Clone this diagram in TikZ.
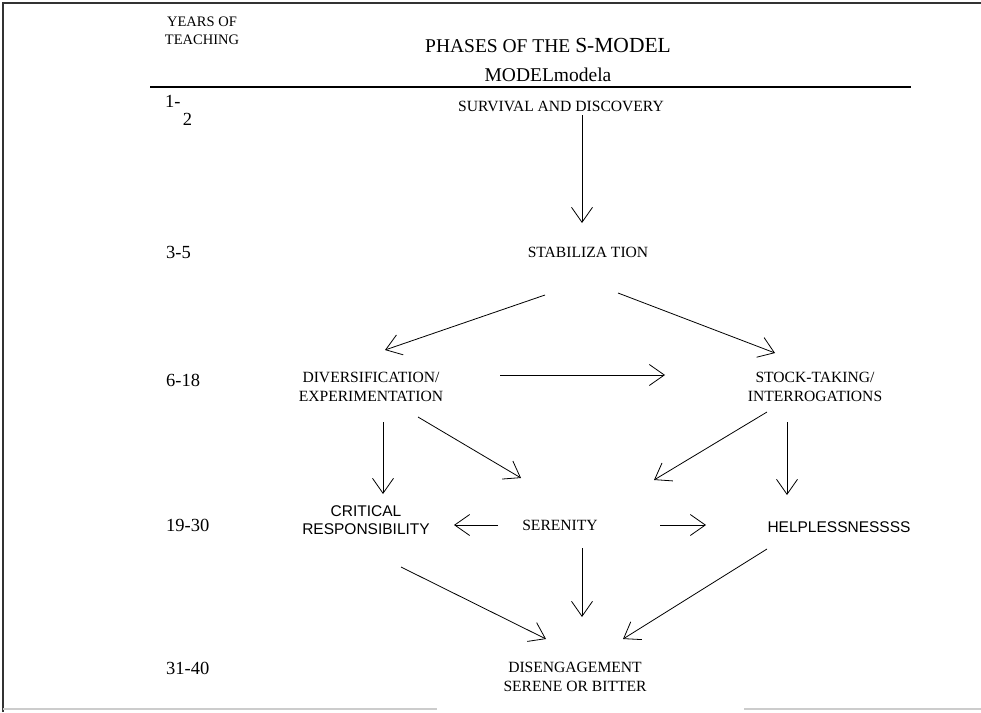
\documentclass[tikz,border=0pt]{standalone}
\usepackage{fontspec}
\setmainfont{Liberation Serif}
\newfontfamily\arialfont{Liberation Sans}
\usetikzlibrary{arrows.meta}

\tikzset{
  phase/.style={align=center, inner sep=1pt, font=\fontsize{15.6}{19}\selectfont},
  phase sans/.style={align=center, inner sep=1pt, font=\arialfont\fontsize{15.5}{18}\selectfont},
  years/.style={anchor=west, inner sep=0pt, font=\fontsize{18.5}{18}\selectfont},
  arr/.style={-{Straight Barb[length=15pt,width=21pt]}, line width=0.8pt},
}

\begin{document}
\begin{tikzpicture}[x=1pt, y=-1pt]
\useasboundingbox (0,0) rectangle (981,712);

% frame of the scan
\draw[line width=2.5pt, black!80] (3,712) -- (3,3) -- (981,3);
\draw[line width=2pt, black!20] (3,709) -- (437,709) (744,709) -- (981,709);

% header
\node[align=center, inner sep=0pt, font=\fontsize{14.5}{18}\selectfont] (head-years) at (202,31) {YEARS OF\\TEACHING};
\node[align=center, inner sep=0pt, font=\fontsize{19.5}{29}\selectfont] (head-phases) at (548,60)
  {PHASES OF THE {\fontsize{21.5}{29}\selectfont S-MODEL}\\MODELmodela};
\draw[line width=1.8pt] (150,87) -- (911,87);

% years of teaching
\node[years, anchor=north west, align=left, font=\fontsize{18.5}{18}\selectfont] (year-1) at (165,95) {1-\\\hspace*{0.95em}2};
\foreach \lbl/\y [count=\i from 2] in {3-5/252, 6-18/380, 19-30/525, 31-40/668}
  \node[years] (year-\i) at (166,\y) {\lbl};

% phases
\node[phase] (survival) at (561,106) {SURVIVAL AND DISCOVERY};
\node[phase] (stab) at (588,252) {STABILIZA TION};
\node[phase] (divers) at (371,387) {DIVERSIFICATION/\\EXPERIMENTATION};
\node[phase] (stock) at (815,387) {STOCK-TAKING/\\INTERROGATIONS};
\node[phase sans] (crit) at (366,520) {CRITICAL\\RESPONSIBILITY};
\node[phase] (seren) at (560,525) {SERENITY};
\node[phase sans] (help) at (839,527) {HELPLESSNESSSS};
\node[phase] (diseng) at (575,677) {DISENGAGEMENT\\SERENE OR BITTER};

% edges between phases
\draw[arr] ([shift={(21,9)}]survival.center) -- ([shift={(-6,-29)}]stab.center);
\draw[arr] ([shift={(-43,43)}]stab.center) -- ([shift={(14,-37)}]divers.center);
\draw[arr] ([shift={(30,41)}]stab.center) -- ([shift={(-40,-34)}]stock.center);
\draw[arr] ([shift={(129,-12)}]divers.center) -- ([shift={(-150,-12)}]stock.center);
\draw[arr] ([shift={(12,35)}]divers.center) -- ([shift={(17,-26)}]crit.center);
\draw[arr] ([shift={(47,30)}]divers.center) -- ([shift={(-39,-47)}]seren.center);
\draw[arr] ([shift={(-48,25)}]stock.center) -- ([shift={(94,-45)}]seren.center);
\draw[arr] ([shift={(-28,35)}]stock.center) -- ([shift={(-52,-32)}]help.center);
\draw[arr] ([shift={(-62,0)}]seren.center) -- ([shift={(88,5)}]crit.center);
\draw[arr] ([shift={(100,0)}]seren.center) -- ([shift={(-133,-2)}]help.center);

% last edges into disengagement
\draw[arr] ([shift={(35,47)}]crit.center) -- ([shift={(-29,-38)}]diseng.center);
\draw[arr] ([shift={(22,23)}]seren.center) -- ([shift={(7,-60)}]diseng.center);
\draw[arr] ([shift={(-72,22)}]help.center) -- ([shift={(48,-38)}]diseng.center);
\end{tikzpicture}
\end{document}
